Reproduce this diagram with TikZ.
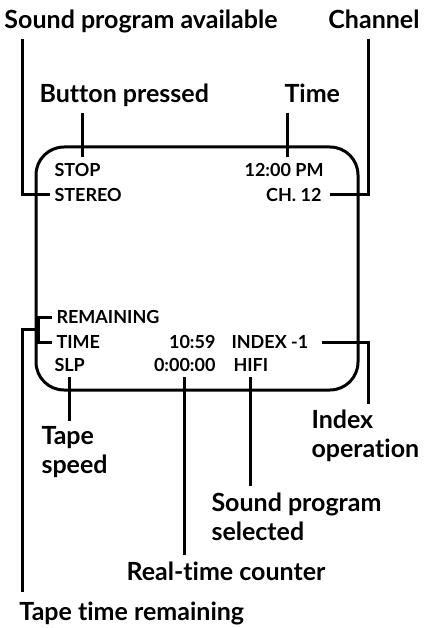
\documentclass[tikz,border=0pt]{standalone}
\usepackage{fontspec}
\setmainfont{Lato}[Ligatures=NoCommon]
\usetikzlibrary{positioning}

\begin{document}
\begin{tikzpicture}[x=1pt, y=-1pt, line width=3pt,
  lbl/.style={font=\fontsize{25}{29}\selectfont\bfseries, inner sep=0pt},
  scr/.style={font=\fontsize{18}{20}\selectfont\bfseries, inner sep=0pt}]
  \useasboundingbox (0,0) rectangle (426,628);
  % screen
  \draw[rounded corners=28pt] (36,147) rectangle (358,390);
  % screen texts
  \node[scr, anchor=west] (stop) at (53,170) {STOP};
  \node[scr, anchor=east] (clock) at (325,170) {12:00 PM};
  \node[scr, anchor=west] (stereo) at (53,195) {STEREO};
  \node[scr, anchor=east] (chan) at (323,195) {CH. 12};
  \node[scr, anchor=west] (remain) at (55,317) {REMAINING};
  \node[scr, anchor=west] (tm) at (55,342) {TIME};
  \node[scr, anchor=east] (cnt) at (217,342) {10:59};
  \node[scr, anchor=west] (idx) at (230,342) {INDEX -1};
  \node[scr, anchor=west] (slp) at (53,365) {SLP};
  \node[scr, anchor=east] (rtc) at (217,365) {0:00:00};
  \node[scr, anchor=west] (hifi) at (232,365) {HIFI};
  % labels
  \node[lbl, anchor=base west] (spa) at (3,29) {Sound program available};
  \node[lbl, anchor=base east] (chl) at (421,29) {Channel};
  \node[lbl, anchor=base west] (bp) at (38,103) {Button pressed};
  \node[lbl, anchor=base west] (tml) at (283,103) {Time};
  \node[lbl, align=left, anchor=north west] (idxl) at (310,408) {Index\\operation};
  \node[lbl, align=left, anchor=north west] (spd) at (40,425) {Tape\\speed};
  \node[lbl, align=left, anchor=north west] (sps) at (210,491) {Sound program\\selected};
  \node[lbl, anchor=north west] (rtl) at (125,560) {Real-time counter};
  \node[lbl, anchor=north west] (ttr) at (18,600) {Tape time remaining};
  % connectors
  \draw ([xshift=19pt,yshift=-10pt]spa.base west) |- ([xshift=-3pt]stereo.west);
  \draw ([xshift=-5pt,yshift=-10pt]chl.base) |- ([xshift=7pt]chan.east);
  \draw ([xshift=44pt,yshift=-10pt]bp.base west) -- ++(0,44);
  \draw ([xshift=4pt,yshift=-10pt]tml.base west) -- ++(0,44);
  \draw ([xshift=-3pt]remain.west) -- ++(-14,0) coordinate (bt) |- ([xshift=-3pt]tm.west);
  \draw ([xshift=4pt,yshift=8pt]ttr.north west) |- ([yshift=-12.5pt]bt);
  \draw ([xshift=12pt]idx.east) -| ([xshift=58pt,yshift=4pt]idxl.north west);
  \draw ([yshift=-4pt]slp.south) -- ([yshift=4pt]spd.north -| slp.south);
  \draw ([yshift=-4pt]rtc.south) -- ([yshift=5pt]rtl.north -| rtc.south);
  \draw ([yshift=-4pt]hifi.south) -- ([yshift=5pt]sps.north -| hifi.south);
\end{tikzpicture}
\end{document}
